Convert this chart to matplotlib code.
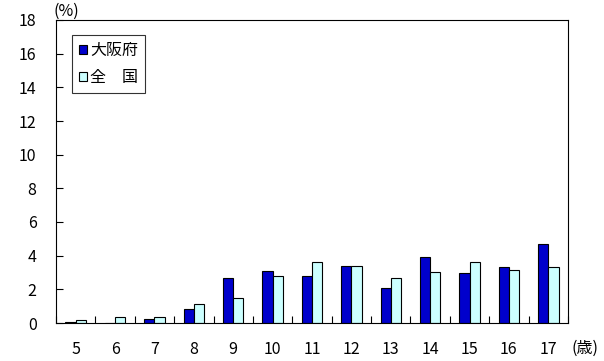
import matplotlib
matplotlib.use("Agg")
import matplotlib.pyplot as plt
import numpy as np

plt.rcParams['font.family'] = ['Noto Sans CJK JP', 'DejaVu Sans']

ages = ['5', '6', '7', '8', '9', '10', '11', '12', '13', '14', '15', '16', '17']
osaka = [0.05, 0.0, 0.22, 0.83, 2.7, 3.1, 2.8, 3.4, 2.05, 3.9, 2.95, 3.35, 4.7]
national = [0.18, 0.33, 0.33, 1.1, 1.5, 2.8, 3.65, 3.4, 2.7, 3.05, 3.65, 3.15, 3.35]
yticks = [0, 2, 4, 6, 8, 10, 12, 14, 16, 18]

fig = plt.figure(figsize=(6.04, 3.61), dpi=100)
ax = fig.add_axes([56/604, 1-323/361, 512/604, 303/361])

x = np.arange(len(ages))
w = 0.26
ax.bar(x - w/2, osaka, w, color='#0000CC', edgecolor='black', linewidth=0.8, label='大阪府')
ax.bar(x + w/2, national, w, color='#CCFFFF', edgecolor='black', linewidth=0.8, label='全\u3000国')

ax.set_xlim(-0.5, len(ages) - 0.5)
ax.set_ylim(0, 18)
ax.set_yticks(yticks)
ax.set_yticklabels([str(v) for v in yticks], fontsize=11.5)
ax.set_xticks(x)
ax.set_xticklabels(ages, fontsize=11.5)
ax.set_xticks(np.arange(len(ages) + 1) - 0.5, minor=True)
ax.tick_params(axis='x', which='major', length=0, pad=13)
ax.tick_params(axis='x', which='minor', direction='in', length=5, width=0.8)
ax.tick_params(axis='y', direction='in', length=5, width=0.8, pad=14)
for s in ax.spines.values():
    s.set_linewidth(0.8)

ax.text(-0.005, 1.0, '(%)', transform=ax.transAxes, fontsize=11.5, ha='left', va='bottom')
ax.text(1.006, -0.085, '(歳)', transform=ax.transAxes, fontsize=11.5, ha='left', va='center')

leg = ax.legend(loc='upper left', bbox_to_anchor=(0.031, 0.95), borderaxespad=0, fontsize=11.5,
                frameon=True, fancybox=False, edgecolor='black', handlelength=0.5,
                handleheight=0.5, handletextpad=0.2, borderpad=0.45, labelspacing=0.6)
leg.get_frame().set_linewidth(0.8)

fig.savefig('out.png', dpi=100)
